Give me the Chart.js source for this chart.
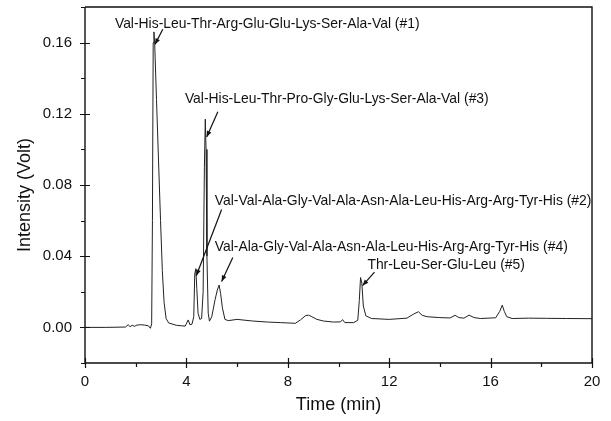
<!DOCTYPE html>
<html>
<head>
<meta charset="utf-8">
<script src="https://cdn.jsdelivr.net/npm/chart.js@4/dist/chart.umd.min.js"></script>
<style>
html,body{margin:0;padding:0;background:#fff;}
#wrap{width:611px;height:421px;}
</style>
</head>
<body>
<div id="wrap"><canvas id="c" width="611" height="421"></canvas></div>
<script>
// ---- data ----
const timeMin = [
  0.0, 0.8, 1.6, 1.7, 1.78, 1.86, 1.95, 2.05, 2.2, 2.35, 2.5, 2.58,
  2.63, 2.66, 2.69, 2.72, 2.75, 2.82, 2.9, 2.98, 3.05, 3.12, 3.2, 3.3,
  3.6, 3.95, 4.07, 4.14, 4.22, 4.29, 4.33, 4.37, 4.41, 4.46, 4.53,
  4.6, 4.66, 4.71, 4.745, 4.775, 4.81, 4.86, 4.91,
  5.0, 5.13, 5.22, 5.29, 5.35, 5.42, 5.52, 5.65,
  6.0, 6.6, 7.2, 7.7, 8.3, 8.5, 8.7, 8.82, 8.95, 9.15, 9.4, 9.8,
  10.08, 10.16, 10.25, 10.6, 10.76, 10.82, 10.87, 10.92, 10.98, 11.08, 11.3,
  12.0, 12.7, 12.95, 13.15, 13.3, 13.5, 14.0, 14.4, 14.6, 14.75, 14.95,
  15.15, 15.35, 15.6, 16.2, 16.36, 16.46, 16.54, 16.64, 16.85,
  17.5, 18.2, 19.0, 20.0
];
const intensityVolt = [
  0.0, 0.0, 0.0002, 0.0015, 0.0004, 0.0012, 0.0006, 0.0013, 0.0015, 0.0013, 0.0009, -0.0005,
  0.002, 0.06, 0.16, 0.166, 0.159, 0.128, 0.094, 0.06, 0.032, 0.014, 0.005, 0.0025,
  0.0012, 0.0007, 0.0042, 0.0015, 0.0018, 0.006, 0.030, 0.033, 0.022, 0.008, 0.0045,
  0.005, 0.02, 0.09, 0.117, 0.10, 0.04, 0.008, 0.0035,
  0.006, 0.0155, 0.021, 0.0238, 0.019, 0.011, 0.0045, 0.0038,
  0.0045, 0.0036, 0.003, 0.0027, 0.0023, 0.0042, 0.0066, 0.0069, 0.006, 0.0045, 0.0036, 0.003,
  0.0031, 0.0044, 0.0027, 0.0027, 0.004, 0.015, 0.028, 0.025, 0.012, 0.0065, 0.005,
  0.0045, 0.0052, 0.0074, 0.0088, 0.0068, 0.006, 0.0055, 0.0053, 0.0068, 0.0055, 0.0052,
  0.0069, 0.0055, 0.005, 0.0054, 0.009, 0.0125, 0.009, 0.006, 0.005,
  0.0052, 0.0051, 0.005, 0.0049
];
const xTickLabels = ['0', '4', '8', '12', '16', '20'];
const yTickLabels = ['0.00', '0.04', '0.08', '0.12', '0.16'];
const peakLabels = [
  'Val-His-Leu-Thr-Arg-Glu-Glu-Lys-Ser-Ala-Val (#1)',
  'Val-His-Leu-Thr-Pro-Gly-Glu-Lys-Ser-Ala-Val (#3)',
  'Val-Val-Ala-Gly-Val-Ala-Asn-Ala-Leu-His-Arg-Arg-Tyr-His (#2)',
  'Val-Ala-Gly-Val-Ala-Asn-Ala-Leu-His-Arg-Arg-Tyr-His (#4)',
  'Thr-Leu-Ser-Glu-Leu (#5)'
];

// annotation placement (data coordinates): text anchor, arrow start, arrow tip
const annotations = [
  {text: peakLabels[0], tx: 1.18, ty: 0.1705, ax: 3.07, ay: 0.1675, bx: 2.76, by: 0.159},
  {text: peakLabels[1], tx: 3.94, ty: 0.128, ax: 5.24, ay: 0.1212, bx: 4.8, by: 0.107},
  {text: peakLabels[2], tx: 5.12, ty: 0.0707, ax: 5.39, ay: 0.0662, bx: 4.39, by: 0.029},
  {text: peakLabels[3], tx: 5.12, ty: 0.0449, ax: 5.83, ay: 0.0393, bx: 5.39, by: 0.0258},
  {text: peakLabels[4], tx: 11.14, ty: 0.035, ax: 11.42, ay: 0.031, bx: 10.95, by: 0.0235}
];

const FONT = "'Liberation Sans', Arial, Helvetica, sans-serif";
const INK = '#111';

function isMajorX(v){ return Math.abs(v/4 - Math.round(v/4)) < 1e-6; }
function isMajorY(v){ return Math.abs(v/0.04 - Math.round(v/0.04)) < 1e-6 && v > -0.001 && v < 0.17; }

const points = timeMin.map((t, i) => ({x: t, y: intensityVolt[i]}));

const decor = {
  id: 'decor',
  afterDraw(chart) {
    const ctx = chart.ctx;
    const xs = chart.scales.x, ys = chart.scales.y;
    const a = chart.chartArea;
    ctx.save();
    ctx.strokeStyle = INK;
    ctx.lineWidth = 1.4;
    // frame
    ctx.beginPath();
    ctx.moveTo(a.left, a.top); ctx.lineTo(a.right, a.top); ctx.lineTo(a.right, a.bottom);
    ctx.moveTo(a.left, a.top); ctx.lineTo(a.left, a.bottom); ctx.lineTo(a.right, a.bottom);
    ctx.stroke();
    // ticks
    ctx.lineWidth = 1.2;
    ctx.beginPath();
    xs.ticks.forEach(t => {
      const px = Math.round(xs.getPixelForValue(t.value)) + 0.5;
      if (isMajorX(t.value)) { ctx.moveTo(px, a.bottom - 5); ctx.lineTo(px, a.bottom + 5); }
      else { ctx.moveTo(px, a.bottom); ctx.lineTo(px, a.bottom + 4); }
    });
    ys.ticks.forEach(t => {
      const py = Math.round(ys.getPixelForValue(t.value)) + 0.5;
      if (isMajorY(t.value)) { ctx.moveTo(a.left - 5, py); ctx.lineTo(a.left + 5, py); }
      else { ctx.moveTo(a.left - 4, py); ctx.lineTo(a.left, py); }
    });
    ctx.stroke();

    // axis titles
    ctx.fillStyle = INK;
    ctx.font = '18px ' + FONT;
    ctx.textAlign = 'center';
    ctx.textBaseline = 'middle';
    ctx.fillText('Time (min)', (a.left + a.right) / 2, a.bottom + 42);
    ctx.save();
    ctx.translate(a.left - 60, (a.top + a.bottom) / 2 + 10);
    ctx.rotate(-Math.PI / 2);
    ctx.fillText('Intensity (Volt)', 0, 0);
    ctx.restore();

    // peak annotations
    ctx.font = '13.9px ' + FONT;
    ctx.textAlign = 'left';
    ctx.textBaseline = 'middle';
    annotations.forEach(an => {
      ctx.fillText(an.text, xs.getPixelForValue(an.tx), ys.getPixelForValue(an.ty));
      const x1 = xs.getPixelForValue(an.ax), y1 = ys.getPixelForValue(an.ay);
      const x2 = xs.getPixelForValue(an.bx), y2 = ys.getPixelForValue(an.by);
      ctx.lineWidth = 1.2;
      ctx.beginPath(); ctx.moveTo(x1, y1); ctx.lineTo(x2, y2); ctx.stroke();
      const ang = Math.atan2(y2 - y1, x2 - x1);
      const L = 6, W = 2.4;
      ctx.beginPath();
      ctx.moveTo(x2, y2);
      ctx.lineTo(x2 - L*Math.cos(ang) + W*Math.sin(ang), y2 - L*Math.sin(ang) - W*Math.cos(ang));
      ctx.lineTo(x2 - L*Math.cos(ang) - W*Math.sin(ang), y2 - L*Math.sin(ang) + W*Math.cos(ang));
      ctx.closePath(); ctx.fill();
    });
    ctx.restore();
  }
};

new Chart(document.getElementById('c'), {
  type: 'line',
  data: {
    datasets: [{
      data: points,
      borderColor: '#222',
      borderWidth: 1,
      pointRadius: 0,
      tension: 0,
      fill: false
    }]
  },
  options: {
    responsive: false,
    animation: false,
    events: [],
    layout: {padding: {left: 0, right: 19, top: 7, bottom: 0}},
    plugins: {legend: {display: false}, tooltip: {enabled: false}},
    scales: {
      x: {
        type: 'linear', min: 0, max: 20,
        grid: {display: false},
        border: {display: false},
        ticks: {
          stepSize: 2, padding: 2, color: INK, maxRotation: 0, autoSkip: false,
          font: {family: FONT, size: 15},
          callback: v => isMajorX(v) ? xTickLabels[Math.round(v / 4)] : ''
        },
        afterFit: s => { s.height = 58; s.paddingLeft = 0; s.paddingRight = 0; }
      },
      y: {
        type: 'linear', min: -0.02, max: 0.18,
        grid: {display: false},
        border: {display: false},
        ticks: {
          stepSize: 0.02, padding: 5, color: INK, autoSkip: false,
          font: {family: FONT, size: 15},
          callback: v => isMajorY(v) ? yTickLabels[Math.round(v / 0.04)] : ''
        },
        afterFit: s => { s.width = 85; s.paddingTop = 0; s.paddingBottom = 0; }
      }
    }
  },
  plugins: [decor]
});
</script>
</body>
</html>
